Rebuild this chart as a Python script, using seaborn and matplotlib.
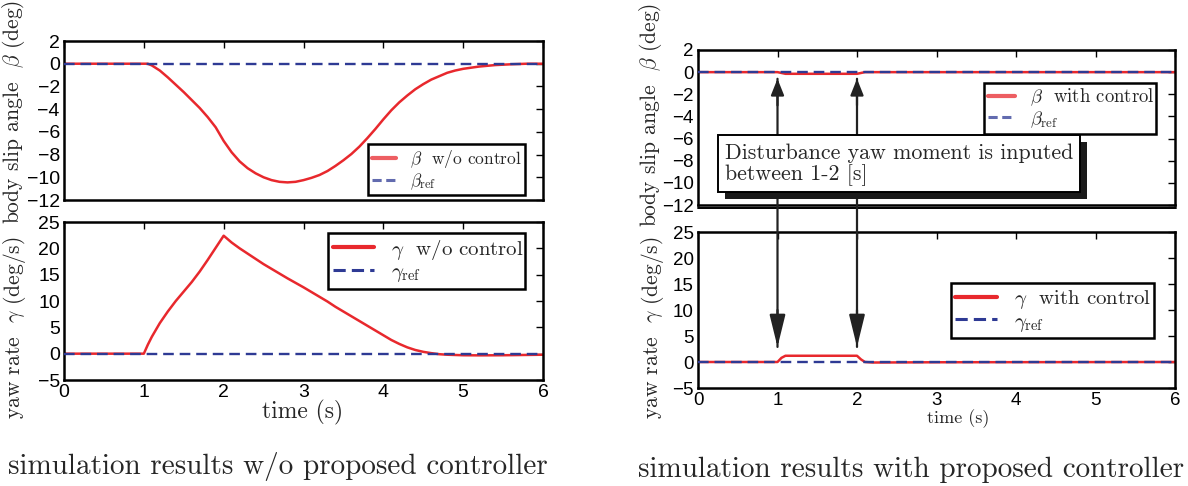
import numpy as np
import pandas as pd
import matplotlib
matplotlib.use("Agg")
import matplotlib.pyplot as plt
import seaborn as sns
from matplotlib.patches import Rectangle, ConnectionPatch
from matplotlib.lines import Line2D
from matplotlib.font_manager import FontProperties

# ---------------- data ----------------
t_beta_off = [0.0, 1.0, 1.05, 1.1, 1.2, 1.3, 1.4, 1.5, 1.6, 1.7, 1.8, 1.9, 2.0, 2.1, 2.2, 2.3,
              2.4, 2.5, 2.6, 2.7, 2.8, 2.9, 3.0, 3.1, 3.2, 3.3, 3.4, 3.5, 3.6, 3.7, 3.8, 3.9,
              4.0, 4.1, 4.2, 4.3, 4.4, 4.5, 4.6, 4.7, 4.8, 4.9, 5.0, 5.2, 5.4, 5.6, 5.8, 6.0]
beta_off = [0.0, 0.0, 0.0, -0.15, -0.6, -1.2, -1.85, -2.5, -3.2, -3.9, -4.7, -5.6, -6.8, -7.8,
            -8.6, -9.2, -9.65, -10.0, -10.25, -10.4, -10.45, -10.4, -10.25, -10.05, -9.8, -9.45,
            -9.0, -8.5, -7.95, -7.3, -6.55, -5.75, -4.9, -4.1, -3.4, -2.8, -2.25, -1.8, -1.4,
            -1.1, -0.8, -0.6, -0.45, -0.25, -0.12, -0.05, 0.0, 0.0]

t_gamma_off = [0.0, 1.0, 1.05, 1.1, 1.2, 1.3, 1.4, 1.5, 1.6, 1.7, 1.8, 1.9, 2.0, 2.1, 2.2, 2.3,
               2.4, 2.5, 2.6, 2.7, 2.8, 2.9, 3.0, 3.1, 3.2, 3.3, 3.4, 3.5, 3.6, 3.7, 3.8, 3.9,
               4.0, 4.1, 4.2, 4.3, 4.4, 4.5, 4.6, 4.7, 4.8, 5.0, 5.2, 5.5, 6.0]
gamma_off = [0.0, 0.0, 1.7, 3.2, 5.8, 8.0, 10.0, 11.8, 13.6, 15.6, 17.8, 20.1, 22.4, 21.1, 20.0,
             19.0, 18.0, 17.0, 16.1, 15.2, 14.3, 13.45, 12.6, 11.7, 10.8, 9.9, 8.9, 8.0, 7.1,
             6.2, 5.3, 4.4, 3.5, 2.6, 1.85, 1.2, 0.7, 0.35, 0.1, -0.1, -0.2, -0.3, -0.32, -0.3, -0.2]

t_beta_on = [0.0, 1.0, 1.1, 2.0, 2.1, 6.0]
beta_on = [0.0, 0.0, -0.15, -0.15, 0.0, 0.0]

t_gamma_on = [0.0, 1.0, 1.05, 1.1, 2.0, 2.05, 2.1, 2.2, 3.0, 6.0]
gamma_on = [0.0, 0.0, 0.8, 1.2, 1.2, 0.5, 0.0, -0.1, -0.05, 0.0]

t_ref = [0.0, 6.0]
ref = [0.0, 0.0]

x_ticks = [0, 1, 2, 3, 4, 5, 6]
beta_ticks = [2, 0, -2, -4, -6, -8, -10, -12]
gamma_ticks = [25, 20, 15, 10, 5, 0, -5]

label_beta = r"body slip angle  $\beta$ (deg)"
label_gamma = r"yaw rate  $\gamma$ (deg/s)"
label_time = "time (s)"
cap_left = "simulation results w/o proposed controller"
cap_right = "simulation results with proposed controller"
note_text = "Disturbance yaw moment is inputed\nbetween 1-2 [s]"

# ---------------- style ----------------
sns.set_theme(style="white")
plt.rcParams.update({
    "font.family": ["cmr10", "DejaVu Serif"],
    "mathtext.fontset": "cm",
    "axes.formatter.use_mathtext": True,
    "axes.unicode_minus": True,
    "axes.edgecolor": "black",
    "axes.linewidth": 1.8,
})
RED = "#e8282d"
BLUE = "#2e3a94"
tick_fp = FontProperties(family=["Liberation Sans Narrow", "Liberation Sans", "DejaVu Sans"], size=14)
tick_fp_r = FontProperties(family=["Liberation Sans Narrow", "Liberation Sans", "DejaVu Sans"], size=13.5)

W, H = 1188, 486
fig = plt.figure(figsize=(W / 100, H / 100), dpi=100)
fig.patch.set_facecolor("white")


def axpos(x0, x1, y0, y1):
    return [x0 / W, 1 - y1 / H, (x1 - x0) / W, (y1 - y0) / H]


ax_lt = fig.add_axes(axpos(64, 543, 41, 200))
ax_lb = fig.add_axes(axpos(64, 543, 222, 380))
ax_rt = fig.add_axes(axpos(698, 1175, 50, 205))
ax_rb = fig.add_axes(axpos(698, 1175, 232, 388))


def draw(ax, t, v, fp, yticks, ylim, show_x):
    df = pd.DataFrame({"t": t, "v": v})
    dr = pd.DataFrame({"t": t_ref, "v": ref})
    sns.lineplot(data=df, x="t", y="v", ax=ax, color=RED, linewidth=1.8,
                 estimator=None, sort=False, zorder=2)
    sns.lineplot(data=dr, x="t", y="v", ax=ax, color=BLUE, linewidth=1.7,
                 linestyle=(0, (4.5, 2.5)), estimator=None, sort=False, zorder=3)
    ax.set_xlim(0, 6)
    ax.set_ylim(*ylim)
    ax.set_xlabel("")
    ax.set_ylabel("")
    ax.set_xticks(x_ticks)
    ax.set_yticks(yticks)
    ax.set_yticklabels([str(v).replace("-", "\u2212") for v in yticks], fontproperties=fp)
    if show_x:
        ax.set_xticklabels([str(v) for v in x_ticks], fontproperties=fp)
    else:
        ax.set_xticklabels([])
    ax.tick_params(direction="in", top=True, right=True, length=5, width=1.0,
                   colors="black", pad=3)
    for s in ax.spines.values():
        s.set_linewidth(1.8)
        s.set_color("black")


draw(ax_lt, t_beta_off, beta_off, tick_fp, beta_ticks, (-12, 2), False)
draw(ax_lb, t_gamma_off, gamma_off, tick_fp, gamma_ticks, (-5, 25), True)
draw(ax_rt, t_beta_on, beta_on, tick_fp_r, beta_ticks, (-12, 2), False)
draw(ax_rb, t_gamma_on, gamma_on, tick_fp_r, gamma_ticks, (-5, 25), True)


def legend(ax, lab1, lab2, x0, x1, top, fs, hl, light):
    a = 0.75 if light else 1.0
    h1 = Line2D([], [], color=RED, lw=3.0, alpha=a)
    h2 = Line2D([], [], color=BLUE, lw=2.2, alpha=a,
                linestyle=(0, (3, 1.5)) if light else (0, (4, 2)))
    lg = ax.legend([h1, h2], [lab1, lab2], loc="upper left",
                   bbox_to_anchor=(x0, 0.0, x1 - x0, top), mode="expand",
                   fontsize=fs, frameon=True, fancybox=False, edgecolor="black", framealpha=1,
                   borderaxespad=0, handlelength=hl, handletextpad=0.8, labelspacing=0.05,
                   borderpad=0.22)
    lg.get_frame().set_linewidth(1.8)
    return lg


legend(ax_lt, r"$\beta$  w/o control", r"$\beta_{\rm ref}$", 0.635, 0.962, 0.35, 12.5, 1.4, True)
legend(ax_lb, r"$\gamma$  w/o control", r"$\gamma_{\rm ref}$", 0.551, 0.962, 0.93, 15, 2.0, False)
legend(ax_rt, r"$\beta$  with control", r"$\beta_{\rm ref}$", 0.60, 0.96, 0.79, 13.5, 1.4, True)
legend(ax_rb, r"$\gamma$  with control", r"$\gamma_{\rm ref}$", 0.53, 0.955, 0.67, 15, 2.0, False)

# axis labels
fig.text(14 / W, 1 - 112 / H, label_beta, rotation=90, ha="center", va="center", fontsize=15.5)
fig.text(15 / W, 1 - 328 / H, label_gamma, rotation=90, ha="center", va="center", fontsize=15.5)
fig.text(651 / W, 1 - 115 / H, label_beta, rotation=90, ha="center", va="center", fontsize=15.5)
fig.text(652 / W, 1 - 328 / H, label_gamma, rotation=90, ha="center", va="center", fontsize=15.5)
fig.text(303 / W, 1 - 412 / H, label_time, ha="center", va="center", fontsize=17)
fig.text(958 / W, 1 - 419 / H, label_time, ha="center", va="center", fontsize=13)

# captions
fig.text(278 / W, 1 - 466 / H, cap_left, ha="center", va="center", fontsize=21)
fig.text(911 / W, 1 - 470 / H, cap_right, ha="center", va="center", fontsize=21)

# double line below right-top axes
fig.add_artist(Line2D([698 / W, 1176 / W], [1 - 208 / H, 1 - 208 / H], transform=fig.transFigure,
                      color="black", lw=1.4))

# arrows at t=1 and t=2
for tx in (1.0, 2.0):
    fig.add_artist(ConnectionPatch(xyA=(tx, -0.6), coordsA=ax_rt.transData,
                                   xyB=(tx, 2.9), coordsB=ax_rb.transData,
                                   arrowstyle="-", lw=1.6, color="#222222", zorder=2))
    fig.add_artist(ConnectionPatch(xyA=(tx, -3.0), coordsA=ax_rt.transData,
                                   xyB=(tx, -0.6), coordsB=ax_rt.transData,
                                   arrowstyle="-|>,head_length=0.55,head_width=0.22",
                                   mutation_scale=18, lw=1.6, color="#222222", zorder=2))
    fig.add_artist(ConnectionPatch(xyA=(tx, 10.0), coordsA=ax_rb.transData,
                                   xyB=(tx, 2.9), coordsB=ax_rb.transData,
                                   arrowstyle="-|>,head_length=1.1,head_width=0.27",
                                   mutation_scale=18, lw=1.6, color="#222222", zorder=2))

# annotation box with shadow
fig.add_artist(Rectangle(((718 + 7) / W, 1 - (192 + 7) / H), 362 / W, 57 / H,
                         transform=fig.transFigure, facecolor="#1a1a1a", edgecolor="none", zorder=3))
fig.add_artist(Rectangle((718 / W, 1 - 192 / H), 362 / W, 57 / H,
                         transform=fig.transFigure, facecolor="white", edgecolor="black",
                         lw=1.4, zorder=4))
fig.text(725 / W, 1 - 165 / H, note_text, ha="left", va="center", fontsize=15.8,
         linespacing=1.05, zorder=5)

fig.savefig("out.png", dpi=100, facecolor="white")
